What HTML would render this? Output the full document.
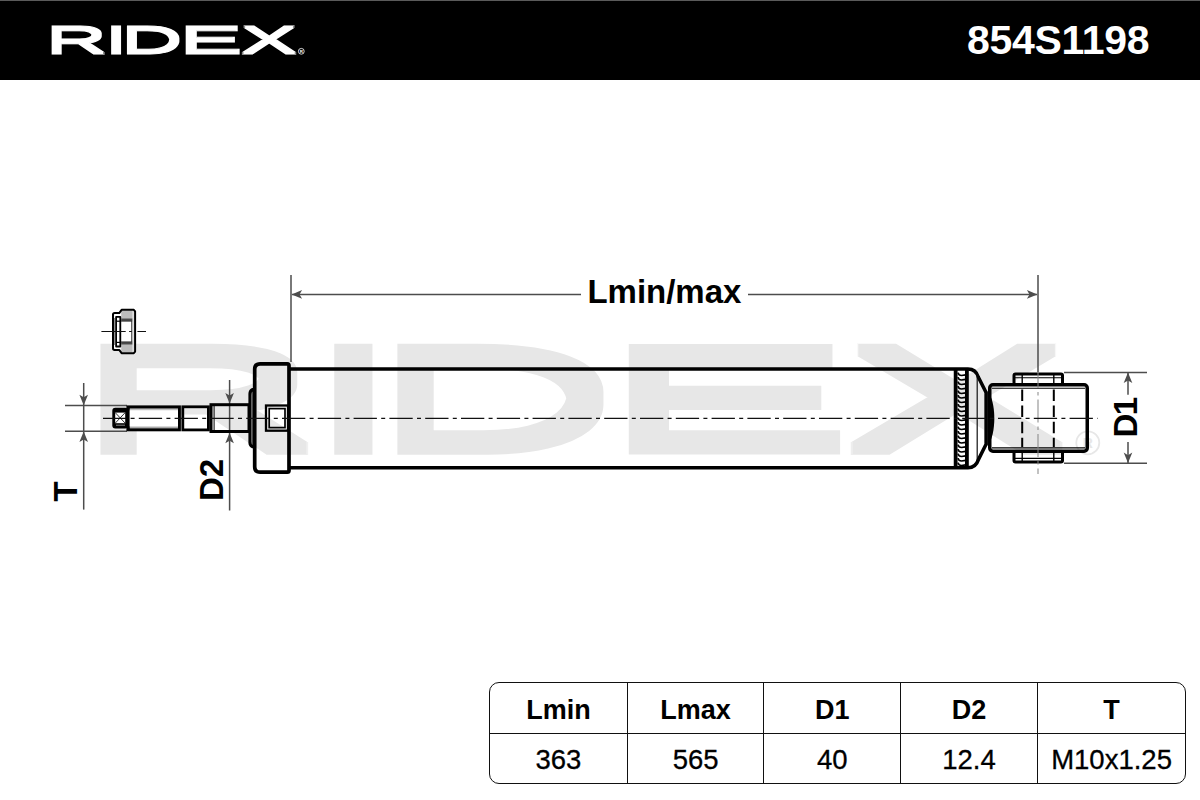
<!DOCTYPE html>
<html lang="en">
<head>
<meta charset="utf-8">
<title>RIDEX 854S1198</title>
<style>
html,body{margin:0;padding:0;background:#fff}
body{width:1200px;height:800px;position:relative;overflow:hidden;font-family:"Liberation Sans",sans-serif;color:#000}
.hdr{position:absolute;left:0;top:0;width:1200px;height:80px;background:#000;border-top:1px solid #5a5a5a;box-sizing:border-box}
.hdr svg{position:absolute;left:0;top:-1px}
.pn{position:absolute;left:967px;top:19px;font-weight:bold;font-size:41px;line-height:1;color:#fff;letter-spacing:-0.3px;white-space:nowrap}
svg text{font-family:"Liberation Sans",sans-serif}
#drawing{position:absolute;left:0;top:0}
table.spec{position:absolute;left:489.2px;top:682px;width:697px;height:101.6px;border-collapse:separate;border-spacing:0;
  border:1.7px solid #111;border-radius:10px;table-layout:fixed;box-sizing:border-box;background:#fff}
table.spec th,table.spec td{padding:0;text-align:center;vertical-align:middle;line-height:1;border-left:1.7px solid #111}
table.spec th{font-size:27px;font-weight:bold;border-bottom:1.7px solid #111;height:49px}
table.spec td{font-size:27.5px;font-weight:normal;height:48px;-webkit-text-stroke:0.3px #000}
table.spec th:first-child,table.spec td:first-child{border-left:none}
table.spec span{position:relative;display:inline-block;top:2.5px}
table.spec td span{top:1.5px}
</style>
</head>
<body>
<div class="hdr">
<svg width="340" height="80" viewBox="0 0 340 80">
<defs><filter id="thickA" x="-5%" y="-30%" width="110%" height="160%"><feMorphology operator="dilate" radius="0 1"/></filter></defs>
<g filter="url(#thickA)"><text transform="translate(45.84 52.90) scale(0.8488 0.3648)" font-size="100" font-weight="normal" fill="#fff" stroke="#fff" stroke-width="1.6" stroke-linejoin="miter" vector-effect="non-scaling-stroke">R</text><text transform="translate(104.38 52.90) scale(0.8364 0.3648)" font-size="100" font-weight="normal" fill="#fff" stroke="#fff" stroke-width="1.6" stroke-linejoin="miter" vector-effect="non-scaling-stroke">I</text><text transform="translate(121.12 52.90) scale(0.8509 0.3648)" font-size="100" font-weight="normal" fill="#fff" stroke="#fff" stroke-width="1.6" stroke-linejoin="miter" vector-effect="non-scaling-stroke">D</text><text transform="translate(178.98 52.90) scale(0.9539 0.3648)" font-size="100" font-weight="normal" fill="#fff" stroke="#fff" stroke-width="1.6" stroke-linejoin="miter" vector-effect="non-scaling-stroke">E</text><text transform="translate(241.66 52.90) scale(0.8179 0.3648)" font-size="100" font-weight="normal" fill="#fff" stroke="#fff" stroke-width="1.6" stroke-linejoin="miter" vector-effect="non-scaling-stroke">X</text></g>
<circle cx="301.3" cy="51.3" r="2.9" fill="none" stroke="#fff" stroke-width="0.8"/>
<text x="301.3" y="52.9" font-size="4.4" font-weight="bold" fill="#fff" text-anchor="middle">R</text>
</svg>
<div class="pn">854S1198</div>
</div>
<svg id="drawing" width="1200" height="800" viewBox="0 0 1200 800">
<g id="watermark">
<defs><filter id="thickB" x="-5%" y="-30%" width="110%" height="160%"><feMorphology operator="dilate" radius="0 6"/></filter></defs>
<g filter="url(#thickB)"><text transform="translate(74.91 447.75) scale(3.3943 1.4100)" font-size="100" font-weight="normal" fill="#e7e7e7" stroke="#e7e7e7" stroke-width="3.5" stroke-linejoin="miter" vector-effect="non-scaling-stroke">R</text><text transform="translate(303.36 447.75) scale(3.5989 1.4100)" font-size="100" font-weight="normal" fill="#e7e7e7" stroke="#e7e7e7" stroke-width="3.5" stroke-linejoin="miter" vector-effect="non-scaling-stroke">I</text><text transform="translate(371.75 447.75) scale(3.4027 1.4100)" font-size="100" font-weight="normal" fill="#e7e7e7" stroke="#e7e7e7" stroke-width="3.5" stroke-linejoin="miter" vector-effect="non-scaling-stroke">D</text><text transform="translate(599.83 447.75) scale(3.8130 1.4100)" font-size="100" font-weight="normal" fill="#e7e7e7" stroke="#e7e7e7" stroke-width="3.5" stroke-linejoin="miter" vector-effect="non-scaling-stroke">E</text><text transform="translate(847.34 447.75) scale(3.2701 1.4100)" font-size="100" font-weight="normal" fill="#e7e7e7" stroke="#e7e7e7" stroke-width="3.5" stroke-linejoin="miter" vector-effect="non-scaling-stroke">X</text></g>
<circle cx="1087.8" cy="442.8" r="11.5" fill="none" stroke="#e7e7e7" stroke-width="1.8"/>
<text x="1087.8" y="447.9" font-size="14" font-weight="bold" fill="#e7e7e7" text-anchor="middle">R</text>
</g>
<g id="dims" fill="none">
<line x1="291" y1="275" x2="291" y2="362" stroke="#4d4d4d" stroke-width="1.5" />
<line x1="1038" y1="275" x2="1038" y2="372" stroke="#4d4d4d" stroke-width="1.5" />
<line x1="292" y1="294.4" x2="581" y2="294.4" stroke="#4d4d4d" stroke-width="1.5" />
<line x1="748" y1="294.4" x2="1037" y2="294.4" stroke="#4d4d4d" stroke-width="1.5" />
<polygon points="291.6,294.4 302.1,290.1 299.5,294.4 302.1,298.7" fill="#4d4d4d"/>
<polygon points="1037.4,294.4 1026.9,290.1 1029.5,294.4 1026.9,298.7" fill="#4d4d4d"/>
<line x1="65" y1="405.4" x2="127" y2="405.4" stroke="#4d4d4d" stroke-width="1.5" />
<line x1="65" y1="431.3" x2="127" y2="431.3" stroke="#4d4d4d" stroke-width="1.5" />
<line x1="83.7" y1="383" x2="83.7" y2="509.6" stroke="#4d4d4d" stroke-width="1.5" />
<polygon points="83.7,405.2 79.4,394.7 83.7,397.3 88.0,394.7" fill="#4d4d4d"/>
<polygon points="83.7,431.5 79.4,442.0 83.7,439.4 88.0,442.0" fill="#4d4d4d"/>
<line x1="229.6" y1="380" x2="229.6" y2="510.5" stroke="#4d4d4d" stroke-width="1.5" />
<polygon points="229.6,403.4 225.3,392.9 229.6,395.5 233.9,392.9" fill="#4d4d4d"/>
<polygon points="229.6,432.8 225.3,443.3 229.6,440.7 233.9,443.3" fill="#4d4d4d"/>
<line x1="1064" y1="372.4" x2="1147" y2="372.4" stroke="#4d4d4d" stroke-width="1.5" />
<line x1="1064" y1="463.3" x2="1147" y2="463.3" stroke="#4d4d4d" stroke-width="1.5" />
<line x1="1128" y1="373" x2="1128" y2="394.7" stroke="#4d4d4d" stroke-width="1.5" />
<line x1="1128" y1="441.9" x2="1128" y2="463" stroke="#4d4d4d" stroke-width="1.5" />
<polygon points="1128.0,372.6 1123.7,383.1 1128.0,380.5 1132.3,383.1" fill="#4d4d4d"/>
<polygon points="1128.0,463.1 1123.7,452.6 1128.0,455.2 1132.3,452.6" fill="#4d4d4d"/>
</g>
<g id="labels" font-weight="bold" fill="#000">
<text x="664.4" y="303.4" font-size="33" text-anchor="middle">Lmin/max</text>
<text transform="translate(77.2 491.3) rotate(-90)" font-size="33" text-anchor="middle">T</text>
<text transform="translate(223.4 480) rotate(-90)" font-size="33" text-anchor="middle">D2</text>
<text transform="translate(1136.7 417.9) rotate(-90)" font-size="33" letter-spacing="-1.6" text-anchor="middle">D1</text>
</g>
<g id="nut" stroke-linejoin="round">
<path d="M114.6 313.1 L119.2 313.1 L121.6 309.8 L133.8 309.8 L135.1 311.4 L135.1 351.6 L133.8 353.2 L121.6 353.2 L119.2 349.9 L114.6 349.9 Q113 349.9 113 348.3 L113 314.7 Q113 313.1 114.6 313.1 Z" fill="#fff" stroke="none"/>
<rect x="121.2" y="310.4" width="11.3" height="8" fill="#bcbcbc"/>
<rect x="121.2" y="318.4" width="11.3" height="2.8" fill="#4a4a4a"/>
<rect x="121.2" y="344.6" width="11.3" height="8" fill="#bcbcbc"/>
<rect x="121.2" y="341.8" width="11.3" height="2.8" fill="#4a4a4a"/>
<path d="M114.6 313.1 L119.2 313.1 L121.6 309.8 L133.8 309.8 L135.1 311.4 L135.1 351.6 L133.8 353.2 L121.6 353.2 L119.2 349.9 L114.6 349.9 Q113 349.9 113 348.3 L113 314.7 Q113 313.1 114.6 313.1 Z" fill="none" stroke="#000" stroke-width="2"/>
<rect x="116.1" y="316.9" width="4.2" height="29.6" fill="#fff" stroke="#000" stroke-width="1.8"/>
<line x1="116" y1="321.2" x2="120.3" y2="321.2" stroke="#000" stroke-width="1.2" />
<line x1="116" y1="342.4" x2="120.3" y2="342.4" stroke="#000" stroke-width="1.2" />
<line x1="114.6" y1="318" x2="114.6" y2="345" stroke="#555" stroke-width="0.7" />
<line x1="131.8" y1="321" x2="131.8" y2="342" stroke="#222" stroke-width="1.0" />
<line x1="133.2" y1="311" x2="133.2" y2="352" stroke="#b0b0b0" stroke-width="0.6" />
<line x1="121" y1="321.2" x2="132" y2="321.2" stroke="#333" stroke-width="0.8" />
<line x1="121" y1="341.9" x2="132" y2="341.9" stroke="#333" stroke-width="0.8" />
<line x1="101.4" y1="331.5" x2="146" y2="331.5" stroke="#111" stroke-width="1.1" stroke-dasharray="24.3 3.4 2.7 5.6"/>
</g>
<g id="rod">
<rect x="112.3" y="407.7" width="16" height="20.8" rx="3" fill="#000"/>
<rect x="115.2" y="412.6" width="10" height="10.6" fill="#fff"/>
<path d="M115.2 412.6 L125.2 423.2 M125.2 412.6 L115.2 423.2" stroke="#333" stroke-width="1" fill="none"/>
<line x1="116" y1="425.2" x2="125" y2="425.2" stroke="#888" stroke-width="1.0" />
<rect x="126.4" y="405.4" width="54.5" height="25.9" fill="#000"/>
<rect x="129.8" y="408.2" width="48.2" height="20.3" fill="#8a8a8a"/>
<rect x="129.8" y="409.3" width="48.2" height="18.1" fill="#d8d8d8"/>
<rect x="129.8" y="410.4" width="48.2" height="15.6" fill="#fff"/>
<rect x="182.8" y="406.8" width="25.6" height="23.1" fill="none" stroke="#000" stroke-width="2.8"/>
<rect x="211" y="404.7" width="38" height="26.8" fill="none" stroke="#000" stroke-width="3"/>
<line x1="214.1" y1="406" x2="214.1" y2="430.5" stroke="#000" stroke-width="1.0" />
<path d="M253 388 L252 388 Q248.4 389.5 248.4 394 L248.4 442.5 Q248.4 446.8 252 448.3 L253 448.3 Z" fill="#000"/>
<path d="M252.6 391.5 Q251.3 392.3 251.3 395 L251.3 441.5 Q251.3 444 252.6 444.9 Z" fill="#8c8c8c"/>
</g>
<g id="body" fill="none" stroke="#000">
<path d="M260.2 363.8 L287.3 363.8 Q289 363.8 289 365.5 L289 470.5 Q289 472.2 287.3 472.2 L260.2 472.2 Q254.7 472.2 254.7 466.7 L254.7 369.3 Q254.7 363.8 260.2 363.8 Z" stroke-width="3.7"/>
<path d="M290 369 L966 369 M290 467.7 L966 467.7" stroke-width="3.6"/>
<rect x="266" y="405.5" width="22" height="25.2" stroke-width="2.3"/>
<rect x="269.2" y="408.6" width="15.8" height="19" stroke-width="1.7" stroke="#000"/>
<path d="M955.65 369 L955.65 467.7 M966.9 369 L966.9 467.7" stroke-width="3.8"/>
<path d="M958 372.6 Q958.6 375.5 961.6 375.5 L965.6 374.8 M958 377.1 Q958.6 380.0 961.6 380.0 L965.6 379.3 M958 381.6 Q958.6 384.5 961.6 384.5 L965.6 383.8 M958 386.1 Q958.6 389.0 961.6 389.0 L965.6 388.3 M958 390.6 Q958.6 393.5 961.6 393.5 L965.6 392.8 M958 395.1 Q958.6 398.0 961.6 398.0 L965.6 397.3 M958 399.6 Q958.6 402.5 961.6 402.5 L965.6 401.8 M958 404.1 Q958.6 407.0 961.6 407.0 L965.6 406.3 M958 408.6 Q958.6 411.5 961.6 411.5 L965.6 410.8 M958 413.1 Q958.6 416.0 961.6 416.0 L965.6 415.3 M958 417.6 Q958.6 420.5 961.6 420.5 L965.6 419.8 M958 422.1 Q958.6 425.0 961.6 425.0 L965.6 424.3 M958 426.6 Q958.6 429.5 961.6 429.5 L965.6 428.8 M958 431.1 Q958.6 434.0 961.6 434.0 L965.6 433.3 M958 435.6 Q958.6 438.5 961.6 438.5 L965.6 437.8 M958 440.1 Q958.6 443.0 961.6 443.0 L965.6 442.3 M958 444.6 Q958.6 447.5 961.6 447.5 L965.6 446.8 M958 449.1 Q958.6 452.0 961.6 452.0 L965.6 451.3 M958 453.6 Q958.6 456.5 961.6 456.5 L965.6 455.8 M958 458.1 Q958.6 461.0 961.6 461.0 L965.6 460.3 M958 462.6 Q958.6 465.5 961.6 465.5 L965.6 464.8" stroke-width="1.7" stroke="#000"/>
<line x1="977.2" y1="374" x2="977.2" y2="462.8" stroke="#111" stroke-width="1.2" />
<path d="M966 369.1 L968 369.1 Q975.8 369.1 978.4 377.2 L985.2 390.8 L986.1 392.6 L986.1 444.2 L985.2 446 L978.4 459.6 Q975.8 467.7 968 467.7 L966 467.7" stroke-width="3.5" stroke-linejoin="round"/>
<path d="M987.5 391 C996.6 401.5 996.6 435.3 987.5 445.8 Z" fill="#000" stroke="none"/>
</g>
<g id="eye" fill="none" stroke="#000">
<rect x="989.75" y="384.75" width="97.5" height="66.5" rx="3.2" stroke-width="3.5"/>
<line x1="992" y1="388.3" x2="1085" y2="388.3" stroke="#000" stroke-width="1.1" />
<line x1="992" y1="447.9" x2="1085" y2="447.9" stroke="#000" stroke-width="1.1" />
<path d="M1014 384 L1014 375.5 Q1014 374 1015.5 374 L1061 374 Q1062.5 374 1062.5 375.5 L1062.5 384" stroke-width="3"/>
<path d="M1014 452 L1014 460.5 Q1014 462 1015.5 462 L1061 462 Q1062.5 462 1062.5 460.5 L1062.5 452" stroke-width="3"/>
<line x1="1015" y1="377.7" x2="1062" y2="377.7" stroke="#000" stroke-width="1.1" />
<line x1="1015" y1="458.4" x2="1062" y2="458.4" stroke="#000" stroke-width="1.1" />
<line x1="1022.2" y1="375" x2="1022.2" y2="383.5" stroke="#000" stroke-width="1.4" />
<line x1="1053.8" y1="375" x2="1053.8" y2="383.5" stroke="#000" stroke-width="1.4" />
<line x1="1022.2" y1="452.5" x2="1022.2" y2="461" stroke="#000" stroke-width="1.4" />
<line x1="1053.8" y1="452.5" x2="1053.8" y2="461" stroke="#000" stroke-width="1.4" />
<line x1="1022.2" y1="389.5" x2="1022.2" y2="447" stroke="#000" stroke-width="2.0" stroke-dasharray="11.5 4.6"/>
<line x1="1053.8" y1="389.5" x2="1053.8" y2="447" stroke="#000" stroke-width="2.0" stroke-dasharray="11.5 4.6"/>
<line x1="1038" y1="372" x2="1038" y2="474" stroke="#858585" stroke-width="1.0" stroke-dasharray="16 4 3.5 4 23 4 3.5 4 23 4 3.5 4"/>
</g>
<line x1="101" y1="418.3" x2="1097.7" y2="418.3" stroke="#111" stroke-width="1.2" stroke-dasharray="23.3 4.3 4 4.2" stroke-dashoffset="-2"/>
</svg>
<table class="spec">
<colgroup><col style="width:136.6px"><col style="width:136.7px"><col style="width:136.7px"><col style="width:136.8px"><col></colgroup>
<tr><th><span>Lmin</span></th><th><span>Lmax</span></th><th><span>D1</span></th><th><span>D2</span></th><th><span>T</span></th></tr>
<tr><td><span>363</span></td><td><span>565</span></td><td><span>40</span></td><td><span>12.4</span></td><td><span>M10x1.25</span></td></tr>
</table>
</body>
</html>
